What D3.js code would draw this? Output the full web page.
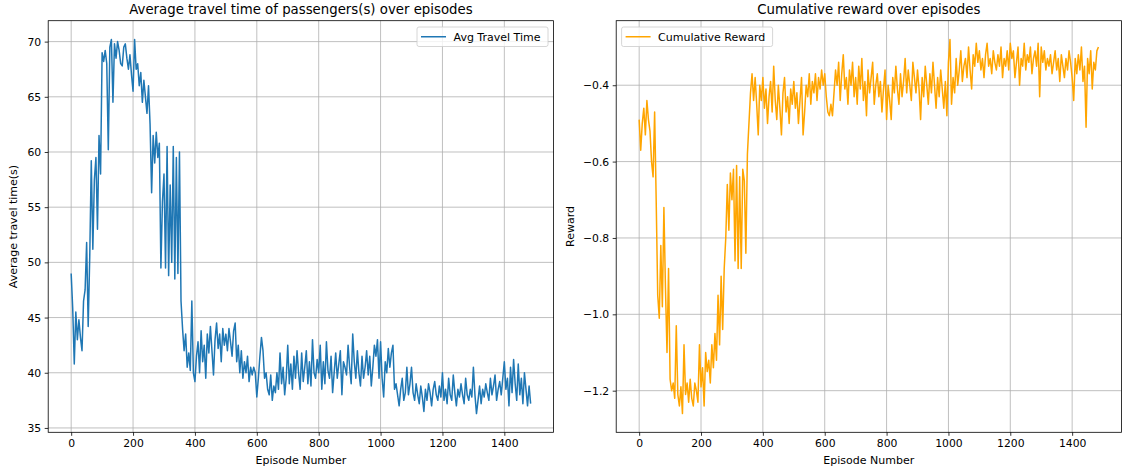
<!DOCTYPE html>
<html>
<head>
<meta charset="utf-8">
<script src="https://cdn.jsdelivr.net/npm/d3@7"></script>
<style>
html,body{margin:0;padding:0;background:#fff;}
svg{display:block;font-family:"DejaVu Sans",sans-serif;}
</style>
</head>
<body>
<svg id="chart" width="1122" height="472"></svg>
<script>
// Episode index (every 5th episode sampled)
const episodes = d3.range(0, 1490, 5);

// Average travel time (s)
const avgTravelTime = [
49.0,45.8,40.8,45.5,43.0,44.8,43.2,42.0,46.5,47.5,51.8,44.2,50.5,59.2,51.2,57.5,59.5,53.0,61.5,58.0,
69.0,68.2,69.2,68.0,60.2,69.5,70.2,64.5,69.8,68.5,70.0,69.2,68.0,67.8,69.5,69.8,68.5,67.5,68.8,67.0,
65.5,70.2,67.5,68.0,66.0,67.2,64.5,66.5,65.0,63.5,66.0,62.5,56.3,61.5,59.0,61.8,59.5,60.8,49.5,55.5,
58.0,49.5,60.5,48.8,57.0,50.0,60.5,48.5,59.5,49.0,60.0,46.5,44.0,42.0,43.5,40.5,41.8,40.2,46.5,40.0,
39.2,41.5,42.8,40.0,43.8,41.0,42.5,39.5,43.5,41.8,44.2,42.0,39.8,43.0,44.5,42.2,43.5,41.0,44.0,42.5,
43.5,42.0,44.0,42.8,41.5,43.8,44.5,41.0,42.5,40.0,42.0,39.5,41.0,40.0,41.5,39.2,40.5,39.8,40.5,40.0,
37.8,39.5,41.5,43.2,42.0,39.5,40.0,38.5,38.0,39.8,37.5,38.8,38.2,40.0,38.5,41.8,39.0,40.5,38.0,39.5,
42.5,39.0,40.8,38.5,41.5,39.5,42.0,40.0,38.5,41.8,39.2,40.5,42.0,39.0,41.0,38.8,43.0,40.0,39.5,41.2,
40.0,42.5,38.5,41.0,39.0,42.8,40.2,39.5,41.5,38.2,40.0,41.8,39.5,40.8,42.0,38.0,41.0,40.5,39.8,42.5,
40.5,39.0,43.5,41.0,39.5,42.0,40.0,38.8,41.5,39.5,40.5,42.0,39.8,41.5,38.8,40.5,42.5,41.5,43.0,39.5,
42.8,39.5,37.8,41.0,40.0,42.2,40.5,41.8,42.5,38.5,39.0,38.0,37.0,38.5,39.5,37.5,38.2,40.5,38.0,39.0,
40.5,38.2,37.5,39.0,38.0,37.2,38.8,37.8,36.5,38.5,37.5,39.0,38.2,37.0,38.5,39.2,38.0,37.5,38.8,37.8,
40.0,37.5,38.5,37.2,39.5,38.0,37.5,39.8,38.2,37.0,38.5,37.8,39.0,38.0,37.2,39.5,38.0,37.5,38.5,37.8,
40.5,38.0,36.3,37.5,38.8,37.2,38.5,37.8,39.0,38.2,37.5,39.5,38.0,38.8,39.8,37.5,38.5,39.2,38.0,39.5,
41.0,38.5,39.5,37.0,40.5,38.2,41.2,39.0,37.5,40.8,38.0,39.5,37.2,40.0,38.5,37.0,38.8,37.2,36.0,36.0
].slice(0, 298);

// Cumulative reward
const cumulativeReward = [
-0.49,-0.57,-0.50,-0.46,-0.53,-0.44,-0.49,-0.52,-0.60,-0.64,-0.47,-0.70,-0.95,-1.01,-0.82,-0.98,-0.72,-0.93,-1.10,-0.88,
-1.17,-1.20,-1.18,-1.22,-1.03,-1.21,-1.24,-1.19,-1.26,-1.08,-1.21,-1.18,-1.23,-1.17,-1.22,-1.24,-1.18,-1.20,-1.23,-1.08,
-1.19,-1.14,-1.24,-1.10,-1.15,-1.12,-1.18,-1.08,-1.14,-1.05,-1.12,-0.95,-1.08,-0.90,-1.04,-0.88,-0.80,-0.66,-0.78,-0.63,
-0.70,-0.62,-0.86,-0.61,-0.88,-0.64,-0.88,-0.62,-0.65,-0.84,-0.58,-0.50,-0.42,-0.37,-0.44,-0.38,-0.45,-0.53,-0.40,-0.44,
-0.38,-0.46,-0.41,-0.50,-0.43,-0.39,-0.47,-0.35,-0.44,-0.49,-0.40,-0.46,-0.53,-0.42,-0.38,-0.47,-0.43,-0.50,-0.41,-0.45,
-0.39,-0.46,-0.42,-0.50,-0.44,-0.38,-0.53,-0.47,-0.40,-0.43,-0.37,-0.45,-0.39,-0.42,-0.37,-0.44,-0.38,-0.41,-0.36,-0.40,
-0.37,-0.43,-0.47,-0.48,-0.45,-0.48,-0.42,-0.36,-0.40,-0.34,-0.44,-0.37,-0.32,-0.41,-0.38,-0.45,-0.36,-0.40,-0.34,-0.43,
-0.38,-0.45,-0.35,-0.41,-0.33,-0.44,-0.39,-0.48,-0.36,-0.42,-0.38,-0.34,-0.45,-0.40,-0.37,-0.43,-0.39,-0.47,-0.41,-0.36,
-0.49,-0.40,-0.44,-0.49,-0.38,-0.42,-0.35,-0.41,-0.45,-0.37,-0.43,-0.39,-0.33,-0.42,-0.36,-0.40,-0.44,-0.34,-0.38,-0.42,
-0.36,-0.41,-0.49,-0.38,-0.43,-0.35,-0.40,-0.45,-0.37,-0.42,-0.34,-0.40,-0.46,-0.38,-0.43,-0.36,-0.41,-0.46,-0.39,-0.48,
-0.34,-0.28,-0.45,-0.38,-0.42,-0.33,-0.40,-0.36,-0.31,-0.39,-0.35,-0.33,-0.38,-0.30,-0.36,-0.41,-0.32,-0.35,-0.29,-0.34,
-0.31,-0.36,-0.33,-0.38,-0.32,-0.29,-0.35,-0.33,-0.37,-0.31,-0.34,-0.36,-0.32,-0.35,-0.30,-0.38,-0.33,-0.35,-0.31,-0.36,
-0.29,-0.33,-0.31,-0.38,-0.34,-0.30,-0.40,-0.33,-0.35,-0.29,-0.36,-0.32,-0.34,-0.30,-0.37,-0.33,-0.31,-0.35,-0.29,-0.43,
-0.30,-0.34,-0.31,-0.36,-0.33,-0.35,-0.32,-0.37,-0.34,-0.31,-0.36,-0.33,-0.39,-0.32,-0.35,-0.38,-0.33,-0.36,-0.31,-0.34,
-0.38,-0.44,-0.33,-0.37,-0.32,-0.36,-0.30,-0.39,-0.35,-0.51,-0.33,-0.37,-0.31,-0.41,-0.34,-0.36,-0.31,-0.30
];

const xTicks = [0, 200, 400, 600, 800, 1000, 1200, 1400];
const travelYTicks = [35, 40, 45, 50, 55, 60, 65, 70];
const rewardYTicks = [-1.2, -1.0, -0.8, -0.6, -0.4];

const svg = d3.select("#chart");
const TICK_FS = "10.8px", LABEL_FS = "11px", TITLE_FS = "13.3px";

function panel(cfg) {
  const {left, right, top, bottom, values, color, title, ylabel, legend, yTicks, yFmt, legendLeft} = cfg;
  const data = episodes.map((e, i) => ({x: e, y: values[i]}));
  const xe = d3.extent(data, d => d.x), ye = d3.extent(data, d => d.y);
  const xp = (xe[1] - xe[0]) * 0.05, yp = (ye[1] - ye[0]) * 0.05;
  const x = d3.scaleLinear().domain([xe[0] - xp, xe[1] + xp]).range([left, right]);
  const y = d3.scaleLinear().domain([ye[0] - yp, ye[1] + yp]).range([bottom, top]);

  const g = svg.append("g");
  g.append("g").selectAll("line").data(xTicks).join("line")
    .attr("x1", d => x(d)).attr("x2", d => x(d)).attr("y1", top).attr("y2", bottom)
    .attr("stroke", "#b0b0b0").attr("stroke-width", 0.8);
  g.append("g").selectAll("line").data(yTicks).join("line")
    .attr("y1", d => y(d)).attr("y2", d => y(d)).attr("x1", left).attr("x2", right)
    .attr("stroke", "#b0b0b0").attr("stroke-width", 0.8);

  const clipId = "clip" + Math.round(left);
  g.append("clipPath").attr("id", clipId).append("rect")
    .attr("x", left).attr("y", top).attr("width", right - left).attr("height", bottom - top);
  g.append("path").datum(data)
    .attr("clip-path", `url(#${clipId})`)
    .attr("fill", "none").attr("stroke", color).attr("stroke-width", 1.5)
    .attr("stroke-linejoin", "round").attr("stroke-linecap", "butt")
    .attr("d", d3.line().x(d => x(d.x)).y(d => y(d.y)));

  const xa = g.append("g").attr("transform", `translate(0,${bottom})`)
    .call(d3.axisBottom(x).tickValues(xTicks).tickSize(3.5).tickPadding(3.5).tickFormat(d3.format("d")));
  const ya = g.append("g").attr("transform", `translate(${left},0)`)
    .call(d3.axisLeft(y).tickValues(yTicks).tickSize(3.5).tickPadding(3.5).tickFormat(yFmt));
  [xa, ya].forEach(a => {
    a.select(".domain").remove();
    a.selectAll("line").attr("stroke", "#000").attr("stroke-width", 0.8);
    a.selectAll("text").attr("fill", "#000").style("font-size", TICK_FS).style("font-family", "DejaVu Sans");
  });

  g.append("rect").attr("x", left).attr("y", top).attr("width", right - left).attr("height", bottom - top)
    .attr("fill", "none").attr("stroke", "#000").attr("stroke-width", 0.8);

  g.append("text").attr("x", (left + right) / 2).attr("y", 14)
    .attr("text-anchor", "middle").style("font-size", TITLE_FS).text(title);
  g.append("text").attr("x", (left + right) / 2).attr("y", 464)
    .attr("text-anchor", "middle").style("font-size", LABEL_FS).text("Episode Number");
  g.append("text").attr("transform", `translate(${cfg.ylabelX},${(top + bottom) / 2}) rotate(-90)`)
    .attr("text-anchor", "middle").style("font-size", LABEL_FS).text(ylabel);

  const lw = cfg.legendW, lx = legendLeft, ly = 27;
  g.append("rect").attr("x", lx).attr("y", ly).attr("width", lw).attr("height", 19.5)
    .attr("rx", 2).attr("fill", "#fff").attr("fill-opacity", 0.8)
    .attr("stroke", "#cccccc").attr("stroke-width", 0.8);
  g.append("line").attr("x1", lx + 4).attr("x2", lx + 29).attr("y1", ly + 9.75).attr("y2", ly + 9.75)
    .attr("stroke", color).attr("stroke-width", 1.5);
  g.append("text").attr("x", lx + 36.5).attr("y", ly + 13.8).style("font-size", LABEL_FS).text(legend);
}

panel({
  left: 48.2, right: 553.6, top: 20.7, bottom: 432.3,
  values: avgTravelTime, color: "#1f77b4",
  title: "Average travel time of passengers(s) over episodes",
  ylabel: "Average travel time(s)", ylabelX: 17,
  legend: "Avg Travel Time", yTicks: travelYTicks, yFmt: d3.format("d"),
  legendLeft: 417, legendW: 131
});

panel({
  left: 616.2, right: 1121.4, top: 20.7, bottom: 432.3,
  values: cumulativeReward, color: "orange",
  title: "Cumulative reward over episodes",
  ylabel: "Reward", ylabelX: 574,
  legend: "Cumulative Reward", yTicks: rewardYTicks, yFmt: d3.format(".1f"),
  legendLeft: 621.6, legendW: 151
});
</script>
</body>
</html>
